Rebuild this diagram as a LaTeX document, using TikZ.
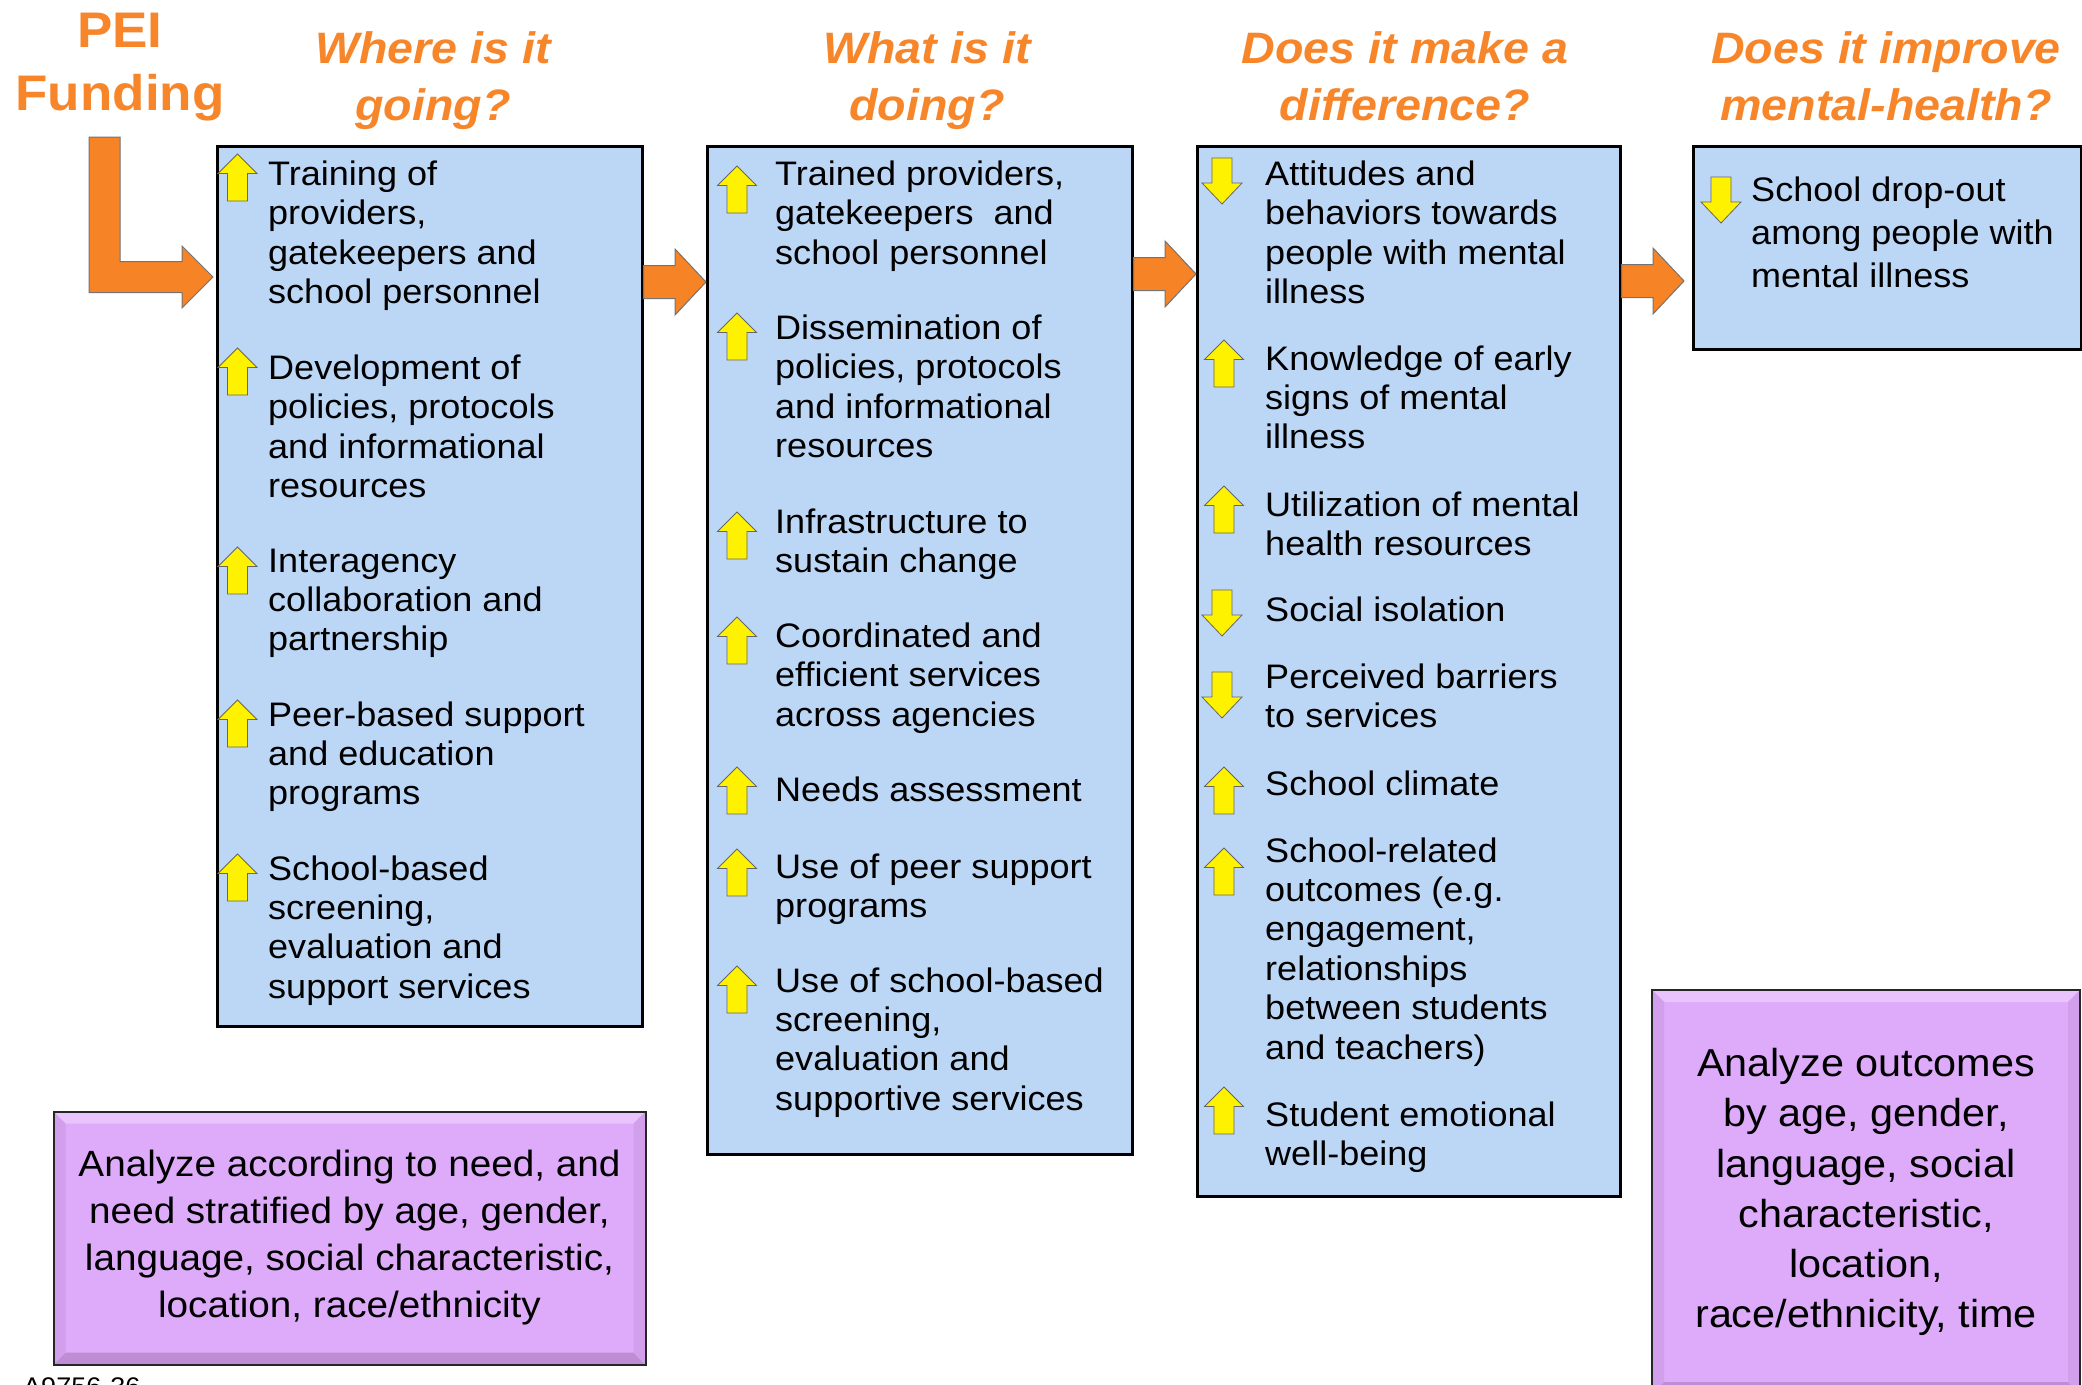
\documentclass[tikz,border=0pt]{standalone}
\usepackage{fontspec}
\setmainfont{Liberation Sans}[FakeStretch=1.06]
\usetikzlibrary{calc}

\definecolor{peiorange}{RGB}{247,134,42}
\definecolor{arroworange}{RGB}{246,131,38}
\definecolor{boxblue}{RGB}{188,214,245}
\definecolor{lilac}{RGB}{222,170,250}
\definecolor{lilachi}{RGB}{233,196,252}
\definecolor{lilaclo}{RGB}{190,142,212}

\tikzset{
  yellowarr/.style={fill=yellow, draw=black!60, line width=0.8pt},
  uparr/.pic={\draw[yellowarr] (0,0) -- (19.5,19.5) -- (10,19.5) -- (10,47) -- (-10,47) -- (-10,19.5) -- (-19.5,19.5) -- cycle;},
  downarr/.pic={\draw[yellowarr] (-10,0) -- (10,0) -- (10,25) -- (20,25) -- (0,46) -- (-20,25) -- (-10,25) -- cycle;},
  bevel/.style={path picture={
    \fill[lilachi] (path picture bounding box.north west) -- (path picture bounding box.north east)
      -- ([shift={(-12pt,-12pt)}]path picture bounding box.north east) -- ([shift={(12pt,-12pt)}]path picture bounding box.north west) -- cycle;
    \fill[lilaclo] (path picture bounding box.south west) -- (path picture bounding box.south east)
      -- ([shift={(-12pt,12pt)}]path picture bounding box.south east) -- ([shift={(12pt,12pt)}]path picture bounding box.south west) -- cycle;
    \fill[lilaclo!40!lilac] (path picture bounding box.north west) -- ([shift={(12pt,-12pt)}]path picture bounding box.north west)
      -- ([shift={(12pt,12pt)}]path picture bounding box.south west) -- (path picture bounding box.south west) -- cycle;
    \fill[lilaclo!40!lilac] (path picture bounding box.north east) -- ([shift={(-12pt,-12pt)}]path picture bounding box.north east)
      -- ([shift={(-12pt,12pt)}]path picture bounding box.south east) -- (path picture bounding box.south east) -- cycle;
  }}
}

% fat orange arrow between two points
\newcommand{\fatarrow}[2]{%
  \draw[bigarrow] let \p1=(#1), \p2=(#2) in
    (\x1,\y1+16.5pt) -- (\x2-31pt,\y1+16.5pt) -- (\x2-31pt,\y1+33pt) -- (\x2,\y2)
    -- (\x2-31pt,\y1-33pt) -- (\x2-31pt,\y1-16.5pt) -- (\x1,\y1-16.5pt) -- cycle;}

\begin{document}
\begin{tikzpicture}[x=1pt, y=-1pt,
  stage/.style={draw=black, line width=2.5pt, fill=boxblue, anchor=north west, inner sep=0pt},
  item/.style={anchor=base west, inner sep=0pt, align=left, font=\fontsize{34}{39.4}\selectfont},
  quest/.style={anchor=base, inner sep=0pt, align=center, text=peiorange, font=\fontsize{44}{57}\selectfont\bfseries\itshape},
  bigarrow/.style={fill=arroworange, draw=black!55, line width=1pt},
  analyze/.style={draw=black!85, line width=2pt, fill=lilac, align=center, inner sep=0pt, bevel}]
\useasboundingbox (0,0) rectangle (2082,1384);
\clip (0,0) rectangle (2082,1384);

% headings (node base = last line)
\node[anchor=base, inner sep=0pt, align=center, text=peiorange, font=\fontsize{50}{63}\selectfont\bfseries] (pei) at (120,110) {PEI\\Funding};
\node[quest] (qwhere) at (433,120) {Where is it\\going?};
\node[quest] (qwhat) at (927,120) {What is it\\doing?};
\node[quest] (qdiff) at (1405,120) {Does it make a\\difference?};
\node[quest] (qhealth) at (1886,120) {Does it improve\\mental-health?};

% the four stages
\node[stage, minimum width=425pt, minimum height=880pt] (b1) at (216,145) {};
\node[stage, minimum width=425pt, minimum height=1008pt] (b2) at (706,145) {};
\node[stage, minimum width=423pt, minimum height=1050pt] (b3) at (1196,145) {};
\node[stage, minimum width=388pt, minimum height=203pt] (b4) at (1692,145) {};

\draw[bigarrow] (89,137) -- (120,137) -- (120,261.5) -- (182,261.5) -- (182,246) -- ($(b1.west |- 0,277)+(-3,0)$)
  -- (182,308) -- (182,292.5) -- (89,292.5) -- cycle;
\fatarrow{b1.east |- 0,282}{b2.west |- 0,282}
\fatarrow{b2.east |- 0,274}{b3.west |- 0,274}
\fatarrow{b3.east |- 0,281}{1684,281}

% where is it going
\pic at (237.5,154) {uparr};
\node[item] (w1) at (268,303.7) {Training of\\providers,\\gatekeepers and\\school personnel};
\pic at (237.5,348) {uparr};
\node[item] (w2) at (268,497.7) {Development of\\policies, protocols\\and informational\\resources};
\pic at (237.5,547) {uparr};
\node[item] (w3) at (268,650.8) {Interagency\\collaboration and\\partnership};
\pic at (237.5,700) {uparr};
\node[item] (w4) at (268,804.8) {Peer-based support\\and education\\programs};
\pic at (237.5,854) {uparr};
\node[item] (w5) at (268,998.2) {School-based\\screening,\\evaluation and\\support services};

% what is it doing
\pic at (737,166) {uparr};
\node[item] (d1) at (775,264.3) {Trained providers,\\gatekeepers\ \ and\\school personnel};
\pic at (737,313) {uparr};
\node[item] (d2) at (775,457.7) {Dissemination of\\policies, protocols\\and informational\\resources};
\pic at (737,512) {uparr};
\node[item] (d3) at (775,572.4) {Infrastructure to\\sustain change};
\pic at (737,617) {uparr};
\node[item] (d4) at (775,726.3) {Coordinated and\\efficient services\\across agencies};
\pic at (737,767) {uparr};
\node[item] (d5) at (775,801) {Needs assessment};
\pic at (737,849) {uparr};
\node[item] (d6) at (775,917.4) {Use of peer support\\programs};
\pic at (737,966) {uparr};
\node[item] (d7) at (775,1110.2) {Use of school-based\\screening,\\evaluation and\\supportive services};

% does it make a difference
\pic at (1222,158) {downarr};
\node[item] (m1) at (1265,303.7) {Attitudes and\\behaviors towards\\people with mental\\illness};
\pic at (1224,340) {uparr};
\node[item] (m2) at (1265,448.8) {Knowledge of early\\signs of mental\\illness};
\pic at (1224,486) {uparr};
\node[item] (m3) at (1265,555.4) {Utilization of mental\\health resources};
\pic at (1222,590) {downarr};
\node[item] (m4) at (1265,621) {Social isolation};
\pic at (1222,672) {downarr};
\node[item] (m5) at (1265,727.9) {Perceived barriers\\to services};
\pic at (1224,767) {uparr};
\node[item] (m6) at (1265,795) {School climate};
\pic at (1224,848) {uparr};
\node[item] (m7) at (1265,1059) {School-related\\outcomes (e.g.\\engagement,\\relationships\\between students\\and teachers)};
\pic at (1224,1087) {uparr};
\node[item] (m8) at (1265,1165.4) {Student emotional\\well-being};

% does it improve mental health
\pic at (1721,177) {downarr};
\node[item, font=\fontsize{34}{43.2}\selectfont] (h1) at (1751,287.4) {School drop-out\\among people with\\mental illness};

% analysis boxes
\node[analyze, minimum width=592pt, minimum height=253pt, font=\fontsize{36.5}{47}\selectfont] (p1) at (349.5,1238)
  {Analyze according to need, and\\need stratified by age, gender,\\language, social characteristic,\\location, race/ethnicity};
\node[analyze, minimum width=428pt, minimum height=404pt, font=\fontsize{39}{50.2}\selectfont] (p2) at (1866,1192)
  {Analyze outcomes\\by age, gender,\\language, social\\characteristic,\\location,\\race/ethnicity, time};

\node[anchor=base west, inner sep=0pt, font=\fontsize{25.5}{30}\selectfont] (code) at (23,1395) {A9756-36};
\end{tikzpicture}
\end{document}
